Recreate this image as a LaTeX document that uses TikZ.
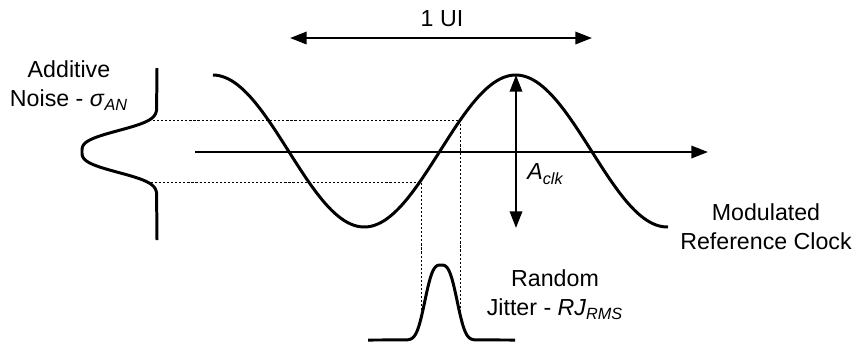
\documentclass[tikz,border=0pt]{standalone}
\usepackage{fontspec}
\setmainfont{Liberation Sans}
\usetikzlibrary{arrows.meta}

\begin{document}
\begin{tikzpicture}[
    x=0.02cm, y=-0.02cm,
    wave/.style={line width=1.7pt, black, line join=round},
    arrow/.style={
        -{Triangle[length=9.5pt, width=7pt]}, line width=1.4pt, black
    },
    twoway/.style={
        {Triangle[length=9.5pt, width=7pt]}-{Triangle[length=9.5pt, width=7pt]},
        line width=1.4pt, black
    },
    guide/.style={line width=0.5pt, dash pattern=on 1.2pt off 1.1pt, black},
    lbl/.style={font=\fontsize{13.2}{16.5}\selectfont, align=center, inner sep=0pt}
]

\useasboundingbox (0,0) rectangle (865,343);

\draw[wave] plot[domain=213:668, samples=150] (\x, {151-76*sin((\x-440)/303*360)});

\draw[wave] (157,68) -- plot[domain=110:193, samples=90] ({157-75*exp(-1*((abs(\x-151.5)/24)^3))}, \x) -- (157,240);

\draw[wave] (368,340) -- plot[domain=405:477, samples=90] (\x, {340-75*exp(-1*((abs(\x-441)/18.6)^3))}) -- (515,340);

\coordinate (ax-l) at (195,152);
\coordinate (ax-r) at (708,152);
\draw[arrow] (ax-l) -- (ax-r);

\coordinate (ui-l) at (290,38);
\coordinate (ui-r) at (592,38);
\draw[twoway] (ui-l) -- (ui-r);
\node[lbl] (ui) at (442,19) {1 UI};

\coordinate (peak) at (516,75);
\coordinate (trough) at (516,228);
\draw[twoway] (peak) -- (trough);
\node[lbl, anchor=west] (aclk) at (527,174) {\textit{A}\textsubscript{\textit{clk}}};

\coordinate (n-up) at (149,120);
\coordinate (s-up) at (460,120);
\coordinate (j-up) at (460,314);
\draw[guide] (n-up) -- (s-up) -- (j-up);

\coordinate (n-lo) at (147,182);
\coordinate (s-lo) at (421,182);
\coordinate (j-lo) at (421,318);
\draw[guide] (n-lo) -- (s-lo) -- (j-lo);

\node[lbl] (noise) at (69,86) {Additive\\Noise - \textit{σ}\textsubscript{\textit{AN}}};

\node[lbl] (clock) at (766,227) {Modulated\\Reference Clock};

\node[lbl] (jitter) at (555,295) {Random\\Jitter - \textit{RJ}\textsubscript{\textit{RMS}}};

\end{tikzpicture}
\end{document}
